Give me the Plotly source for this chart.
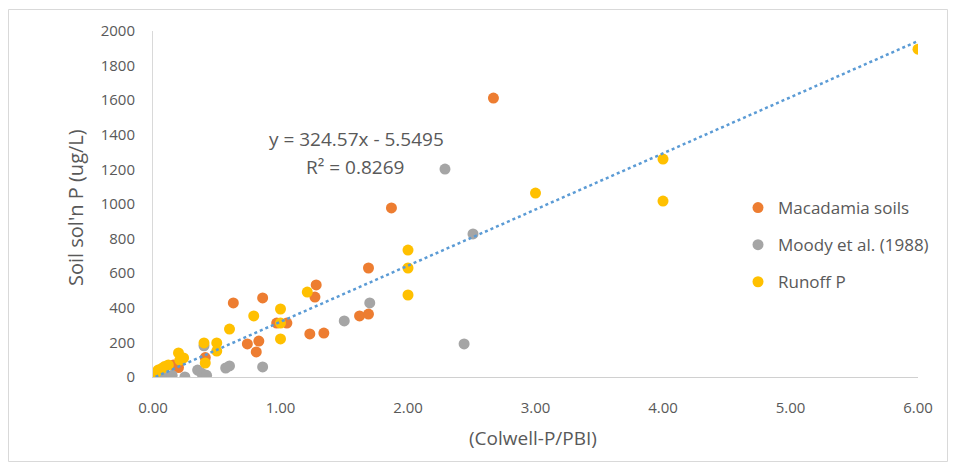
import numpy as np
import plotly.graph_objects as go

# ---- data ----
mac_x = [0.16, 0.20, 0.41, 0.63, 0.74, 0.81, 0.83, 0.86, 0.97, 1.05, 1.23, 1.27, 1.28, 1.34, 1.62, 1.69, 1.69, 1.87, 2.67]
mac_y = [70, 55, 112, 428, 191, 145, 208, 457, 312, 312, 249, 462, 532, 254, 353, 364, 630, 977, 1612]

moody_x = [0.03, 0.06, 0.12, 0.15, 0.25, 0.35, 0.38, 0.42, 0.40, 0.57, 0.60, 0.86, 1.50, 1.70, 2.29, 2.44, 2.51]
moody_y = [0, 5, 2, 10, 0, 40, 23, 10, 180, 52, 64, 58, 324, 428, 1202, 191, 827]

run_x = [0.02, 0.04, 0.07, 0.09, 0.12, 0.20, 0.21, 0.24, 0.40, 0.41, 0.50, 0.50, 0.60, 0.79, 1.00, 1.00, 1.00, 1.21, 2.00, 2.00, 2.00, 3.00, 4.00, 4.00, 6.00]
run_y = [23, 40, 50, 60, 70, 139, 98, 110, 197, 81, 197, 150, 277, 353, 393, 312, 220, 491, 734, 630, 474, 1063, 1260, 1017, 1895]

slope = 324.57
intercept = -5.5495
r2 = 0.8269

x_ticks = [0, 1, 2, 3, 4, 5, 6]
y_ticks = list(range(0, 2001, 200))

# ---- figure ----
FONT = "Open Sans"
TXT = "#595959"

all_x = mac_x + moody_x + run_x
tx = np.array([min(all_x), max(all_x)])
ty = slope * tx + intercept

fig = go.Figure()
fig.add_trace(go.Scatter(x=mac_x, y=mac_y, mode="markers", name="Macadamia soils",
                         legendgroup="a",
                         marker=dict(color="#ED7D31", size=11)))
fig.add_trace(go.Scatter(x=moody_x, y=moody_y, mode="markers", name="Moody et al. (1988)",
                         legendgroup="b",
                         marker=dict(color="#A5A5A5", size=11)))
fig.add_trace(go.Scatter(x=run_x, y=run_y, mode="markers", name="Runoff P",
                         legendgroup="c",
                         marker=dict(color="#FFC000", size=11)))
fig.add_trace(go.Scatter(x=tx, y=ty, mode="lines", showlegend=False,
                         line=dict(color="#5B9BD5", width=2.5, dash="dot"),
                         hoverinfo="skip"))

# page body has an 8px margin: work in screen pixels, convert to figure pixels
OFF = 8
W, H = 948, 463
L, T = 153 - OFF, 31 - OFF
pw, ph = 765, 346
R, B = W - L - pw, H - T - ph


def px(sx):
    return (sx - OFF - L) / pw


def py(sy):
    return (T + ph - (sy - OFF)) / ph


fig.update_layout(
    width=W, height=H,
    margin=dict(l=L, r=R, t=T, b=B, autoexpand=False),
    paper_bgcolor="white", plot_bgcolor="white",
    font=dict(family=FONT, color=TXT, size=15),
    showlegend=True,
    legend=dict(x=px(738), y=py(190), xanchor="left", yanchor="top",
                font=dict(size=17, color=TXT), tracegroupgap=12,
                bgcolor="rgba(0,0,0,0)", itemwidth=30),
    xaxis=dict(range=[0, 6], tickvals=x_ticks, ticktext=[f"{v:.2f}" for v in x_ticks],
               showgrid=False, zeroline=False, showline=True, linecolor="#D0D0D0",
               linewidth=1, ticks="", ticklabelstandoff=17,
               tickfont=dict(size=15, color=TXT)),
    yaxis=dict(range=[0, 2000], tickvals=y_ticks, showgrid=False, zeroline=False,
               showline=True, linecolor="#D9D9D9", linewidth=1, ticks="",
               ticklabelstandoff=14, tickfont=dict(size=15, color=TXT)),
    annotations=[
        dict(xref="paper", yref="paper", x=px(356), y=py(139), xanchor="center", yanchor="middle",
             text=f"y = {slope}x - {abs(intercept)}", showarrow=False,
             font=dict(size=19, color=TXT)),
        dict(xref="paper", yref="paper", x=px(355), y=py(167), xanchor="center", yanchor="middle",
             text=f"R² = {r2}", showarrow=False, font=dict(size=19, color=TXT)),
        dict(xref="paper", yref="paper", x=px(533), y=py(438), xanchor="center", yanchor="middle",
             text="(Colwell-P/PBI)", showarrow=False, font=dict(size=19, color=TXT)),
        dict(xref="paper", yref="paper", x=px(75), y=py(208), xanchor="center", yanchor="middle",
             text="Soil sol'n P (ug/L)", textangle=-90, showarrow=False,
             font=dict(size=20, color=TXT)),
    ],
    shapes=[dict(type="rect", xref="paper", yref="paper",
                 x0=px(8.5), x1=px(947.5), y0=py(461.5), y1=py(9.5),
                 line=dict(color="#D9D9D9", width=1), fillcolor="rgba(0,0,0,0)",
                 layer="below")],
)

fig.write_html("out.html")
